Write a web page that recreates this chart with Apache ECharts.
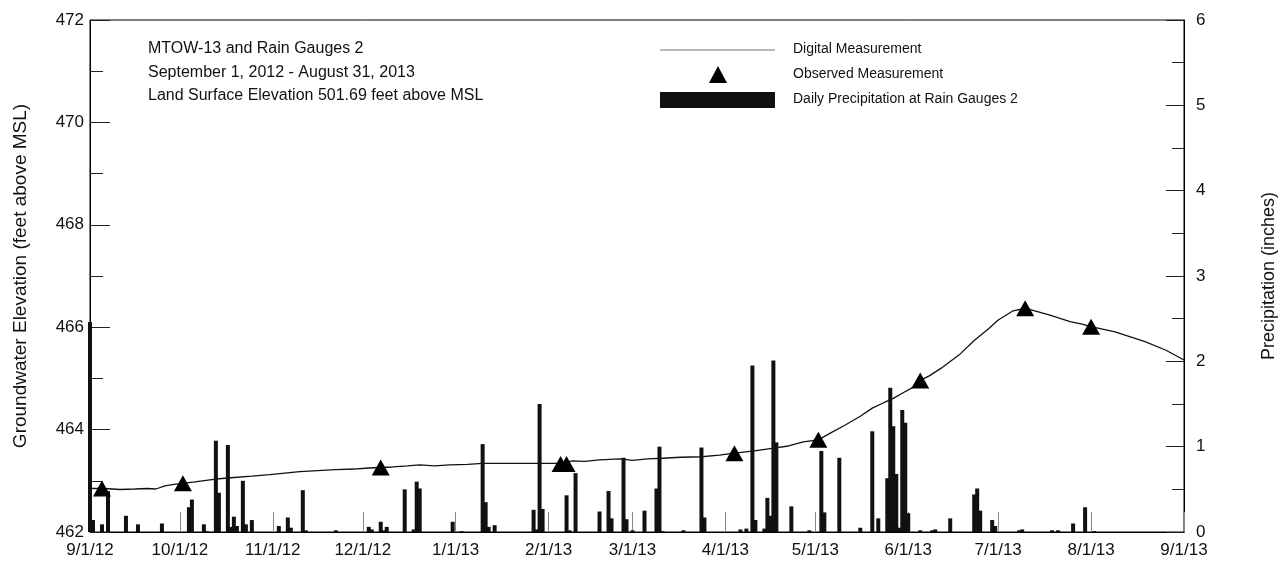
<!DOCTYPE html>
<html>
<head>
<meta charset="utf-8">
<script src="https://cdn.jsdelivr.net/npm/echarts@6/dist/echarts.min.js"></script>
<style>
  html, body { margin: 0; padding: 0; background: #fff; }
  #chart { width: 1286px; height: 574px; }
</style>
</head>
<body>
<div id="chart"></div>
<script>
  // x is days since 9/1/12
  const monthDays = [0, 30, 61, 91, 122, 153, 181, 212, 242, 273, 303, 334, 365];
  const monthLabels = ['9/1/12', '10/1/12', '11/1/12', '12/1/12', '1/1/13', '2/1/13', '3/1/13',
    '4/1/13', '5/1/13', '6/1/13', '7/1/13', '8/1/13', '9/1/13'];

  // digital measurement (feet above MSL)
  const digitalDay = [0, 1, 5, 10, 15, 19, 22, 25, 28, 31, 35, 40, 43, 47, 54, 60, 65, 70, 76, 82, 88, 93, 97,
    101, 106, 110, 115, 120, 126, 131, 133, 157, 161, 165, 170, 177, 181, 186, 191, 197, 204, 210, 215, 221,
    227, 233, 238, 243, 247, 252, 257, 261, 265, 268, 271, 275, 277, 280, 284, 290, 295, 300, 303, 308, 312,
    314, 320, 327, 331, 334, 342, 352, 359, 365];
  const digitalElev = [462.86, 462.85, 462.85, 462.83, 462.84, 462.85, 462.84, 462.90, 462.93, 462.95, 462.98,
    463.02, 463.04, 463.06, 463.09, 463.12, 463.15, 463.18, 463.20, 463.22, 463.23, 463.25, 463.26,
    463.27, 463.29, 463.31, 463.29, 463.31, 463.32, 463.34, 463.34, 463.34, 463.39, 463.38, 463.41, 463.43,
    463.40, 463.43, 463.44, 463.46, 463.47, 463.50, 463.54, 463.58,
    463.63, 463.68, 463.76, 463.80, 463.93, 464.09, 464.26, 464.42, 464.53, 464.61, 464.71, 464.84, 464.96,
    465.05, 465.20, 465.46, 465.74, 465.98, 466.14, 466.32, 466.37,
    466.34, 466.24, 466.11, 466.06, 466.01, 465.91, 465.72, 465.55, 465.36];

  // observed measurement
  const observedDay = [4, 31, 97, 157, 159, 215, 243, 277, 312, 334];
  const observedElev = [462.85, 462.95, 463.26, 463.33, 463.33, 463.54, 463.80, 464.96, 466.37, 466.01];

  // daily precipitation (inches)
  const rainDay = [0, 1, 4, 6, 12, 16, 24, 33, 34, 38, 39, 42, 43, 46, 47, 48, 49, 51, 52, 54, 63, 66, 67, 71,
    72, 82, 93, 94, 97, 98, 99, 105, 108, 109, 110, 121, 124, 131, 132, 133, 135, 148, 149, 150, 151, 159,
    160, 162, 170, 173, 174, 178, 179, 181, 185, 189, 190, 191, 198, 204, 205, 217, 219, 221, 222, 225, 226,
    227, 228, 229, 234, 240, 244, 245, 250, 257, 261, 263, 266, 267, 268, 269, 270, 271, 272, 273, 277, 281,
    282, 287, 295, 296, 297, 301, 302, 310, 311, 321, 323, 328, 332, 335];
  const rainInches = [2.46, 0.14, 0.09, 0.48, 0.19, 0.09, 0.10, 0.29, 0.38, 0.09, 0.01, 1.07, 0.46, 1.02, 0.06,
    0.18, 0.07, 0.60, 0.09, 0.14, 0.07, 0.17, 0.05, 0.49, 0.02, 0.02, 0.06, 0.03, 0.12, 0.02, 0.06, 0.50, 0.03,
    0.59, 0.51, 0.12, 0.01, 1.03, 0.35, 0.06, 0.08, 0.26, 0.03, 1.50, 0.27, 0.43, 0.02, 0.69, 0.24, 0.48, 0.16,
    0.87, 0.15, 0.02, 0.25, 0.51, 1.00, 0.01, 0.02, 0.99, 0.17, 0.03, 0.04, 1.95, 0.14, 0.04, 0.40, 0.19, 2.01,
    1.05, 0.30, 0.02, 0.95, 0.23, 0.87, 0.05, 1.18, 0.16, 0.63, 1.69, 1.24, 0.68, 0.05, 1.43, 1.28, 0.22, 0.02,
    0.02, 0.03, 0.16, 0.44, 0.51, 0.25, 0.14, 0.07, 0.02, 0.03, 0.02, 0.02, 0.10, 0.29, 0.01];

  const titleLines = ['MTOW-13 and Rain Gauges 2', 'September 1, 2012 - August 31, 2013',
    'Land Surface Elevation 501.69 feet above MSL'];
  const legendNames = ['Digital Measurement', 'Observed Measurement', 'Daily Precipitation at Rain Gauges 2'];

  const FONT = '"Liberation Sans", Arial, sans-serif';
  const zip = (a, b) => a.map((v, i) => [v, b[i]]);

  let chart = echarts.init(document.getElementById('chart'), null, { renderer: 'canvas' });

  let graphic = [];
  titleLines.forEach((t, i) => {
    graphic.push({
      type: 'text', left: 148, top: 41 + i * 23.5,
      style: { text: t, fontSize: 16, fontFamily: FONT, fill: '#111' }
    });
  });
  // legend
  graphic.push({ type: 'line', shape: { x1: 660, y1: 50, x2: 775, y2: 50 }, style: { stroke: '#777', lineWidth: 1.2 } });
  graphic.push({ type: 'polygon', shape: { points: [[718, 66], [709, 83], [727, 83]] }, style: { fill: '#000' } });
  graphic.push({ type: 'rect', shape: { x: 660, y: 92, width: 115, height: 16 }, style: { fill: '#111' } });
  legendNames.forEach((t, i) => {
    graphic.push({
      type: 'text', left: 793, top: 42 + i * 25,
      style: { text: t, fontSize: 14, fontFamily: FONT, fill: '#111' }
    });
  });

  let option = {
    backgroundColor: '#fff',
    animation: false,
    textStyle: { fontFamily: FONT },
    grid: { left: 90, right: 101, top: 20, bottom: 42, show: true, borderColor: '#000', borderWidth: 1 },
    graphic: graphic,
    xAxis: {
      type: 'value', min: 0, max: 365,
      axisLine: { lineStyle: { color: '#000' } },
      axisTick: { inside: true, length: 20, customValues: monthDays, lineStyle: { color: '#888' } },
      axisLabel: {
        customValues: monthDays, color: '#111', fontSize: 17, margin: 10,
        formatter: v => monthLabels[monthDays.indexOf(v)]
      },
      splitLine: { show: false }
    },
    yAxis: [{
      type: 'value', min: 462, max: 472, interval: 2,
      name: 'Groundwater Elevation (feet above MSL)', nameLocation: 'middle', nameGap: 60,
      nameTextStyle: { fontSize: 19, color: '#111' },
      axisLine: { show: true, lineStyle: { color: '#000' } },
      axisTick: { inside: true, length: 20, lineStyle: { color: '#222' } },
      minorTick: { show: true, splitNumber: 2, length: 13, lineStyle: { color: '#222' } },
      axisLabel: { color: '#111', fontSize: 17, margin: 6 },
      splitLine: { show: false }, minorSplitLine: { show: false }
    }, {
      type: 'value', min: 0, max: 6, interval: 1, position: 'right',
      name: 'Precipitation (inches)', nameLocation: 'middle', nameGap: 76, nameRotate: 90,
      nameTextStyle: { fontSize: 18, color: '#111' },
      axisLine: { show: true, lineStyle: { color: '#000' } },
      axisTick: { inside: true, length: 18, lineStyle: { color: '#222' } },
      minorTick: { show: true, splitNumber: 2, length: 12, lineStyle: { color: '#222' } },
      axisLabel: { color: '#111', fontSize: 17, margin: 12 },
      splitLine: { show: false }, minorSplitLine: { show: false }
    }],
    series: [{
      name: legendNames[2], type: 'bar', yAxisIndex: 1, barWidth: 4,
      itemStyle: { color: '#111' }, z: 2,
      data: zip(rainDay, rainInches)
    }, {
      name: legendNames[0], type: 'line', yAxisIndex: 0, showSymbol: false,
      lineStyle: { color: '#111', width: 1.3 }, z: 3,
      data: zip(digitalDay, digitalElev)
    }, {
      name: legendNames[1], type: 'scatter', yAxisIndex: 0, symbol: 'triangle', symbolSize: [18, 16],
      itemStyle: { color: '#000', opacity: 1 }, z: 4,
      data: zip(observedDay, observedElev)
    }]
  };

  chart.setOption(option);
</script>
</body>
</html>
